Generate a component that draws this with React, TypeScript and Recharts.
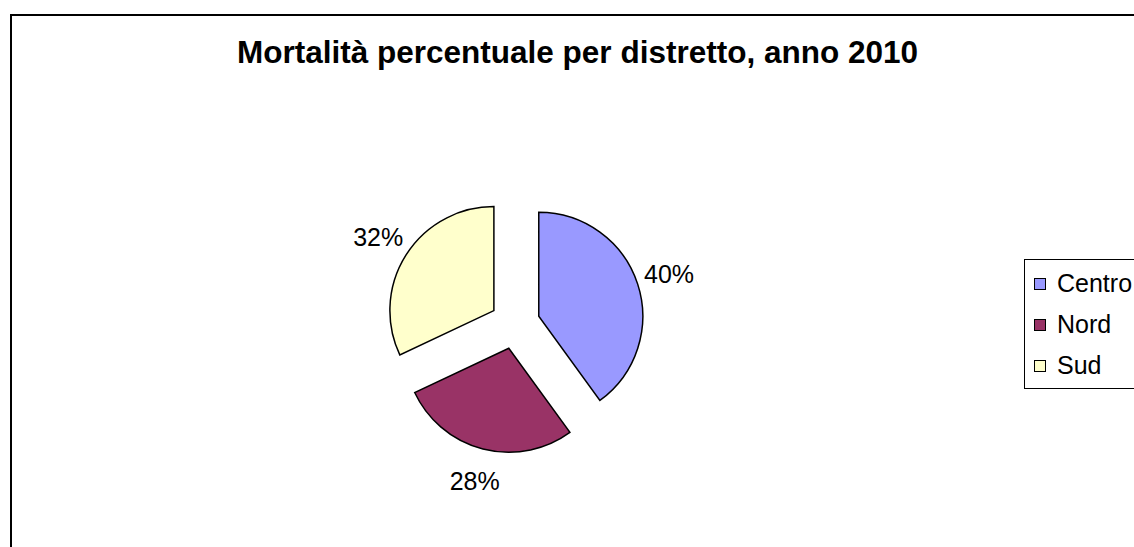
import React from 'react';
import { PieChart, Pie, Cell, Legend } from 'recharts';

const CATEGORIES = ['Centro', 'Nord', 'Sud'];
const VALUES = [40, 28, 32];
const COLORS = ['#9999FF', '#993366', '#FFFFCC'];

const FONT = '"Liberation Sans", Arial, sans-serif';
const W = 1134;
const H = 547;
const CX = 515;
const CY = 324;
const RADIUS = 104;
const EXPLODE = 25;
const RAD = Math.PI / 180;

const total = VALUES.reduce((s, v) => s + v, 0);

// each slice is its own Pie so it can be pulled out along its mid angle
let acc = 0;
const slices = CATEGORIES.map((name, i) => {
  const startAngle = 90 - (acc / total) * 360;
  acc += VALUES[i];
  const endAngle = 90 - (acc / total) * 360;
  const mid = (startAngle + endAngle) / 2;
  return {
    name,
    value: VALUES[i],
    color: COLORS[i],
    startAngle,
    endAngle,
    dx: EXPLODE * Math.cos(mid * RAD),
    dy: -EXPLODE * Math.sin(mid * RAD),
  };
});

const renderLabel = (props: any) => {
  const { cx, cy, midAngle, outerRadius, value } = props;
  const r = outerRadius + 33;
  const x = cx + r * Math.cos(-midAngle * RAD);
  const y = cy + r * Math.sin(-midAngle * RAD);
  return (
    <text
      x={x}
      y={y}
      textAnchor="middle"
      dominantBaseline="central"
      fontFamily={FONT}
      fontSize={25}
      fill="#000"
    >
      {Math.round((value / total) * 100)}%
    </text>
  );
};

const renderLegend = (props: any) => {
  const payload = props.payload || [];
  return (
    <div
      style={{
        border: '1px solid #000',
        background: '#fff',
        padding: '3px 0 2px 9px',
        width: 200,
        fontFamily: FONT,
        fontSize: 25,
      }}
    >
      {payload.map((entry: any, i: number) => (
        <div key={i} style={{ display: 'flex', alignItems: 'center', height: 41 }}>
          <span
            style={{
              display: 'inline-block',
              width: 10,
              height: 10,
              border: '1px solid #000',
              background: entry.color || COLORS[i],
              marginRight: 11,
            }}
          />
          <span style={{ color: '#000' }}>{entry.value}</span>
        </div>
      ))}
    </div>
  );
};

export default function App() {
  return (
    <div
      style={{
        position: 'fixed',
        left: 0,
        top: 0,
        width: W,
        height: H,
        overflow: 'hidden',
        background: '#fff',
      }}
    >
      <div
        style={{
          position: 'absolute',
          left: 10,
          top: 14,
          width: 1300,
          height: 700,
          border: '2px solid #000',
        }}
      />
      <div
        style={{
          position: 'absolute',
          left: 0,
          top: 37,
          width: 1155,
          textAlign: 'center',
          fontFamily: FONT,
          fontWeight: 'bold',
          fontSize: 31.5,
          lineHeight: '31px',
          color: '#000',
        }}
      >
        Mortalità percentuale per distretto, anno 2010
      </div>
      <div style={{ position: 'absolute', left: 0, top: 0 }}>
        <PieChart width={W} height={H} margin={{ top: 0, right: 0, bottom: 0, left: 0 }}>
          {slices.map((s) => (
            <Pie
              key={s.name}
              data={[{ name: s.name, value: s.value }]}
              dataKey="value"
              nameKey="name"
              cx={CX + s.dx}
              cy={CY + s.dy}
              outerRadius={RADIUS}
              startAngle={s.startAngle}
              endAngle={s.endAngle}
              fill={s.color}
              stroke="#000"
              strokeWidth={1.5}
              label={renderLabel}
              labelLine={false}
              isAnimationActive={false}
            >
              <Cell fill={s.color} />
            </Pie>
          ))}
          <Legend
            layout="vertical"
            align="right"
            verticalAlign="middle"
            content={renderLegend}
            wrapperStyle={{ left: 1024, top: 259, right: 'auto', bottom: 'auto', width: 200 }}
          />
        </PieChart>
      </div>
    </div>
  );
}
